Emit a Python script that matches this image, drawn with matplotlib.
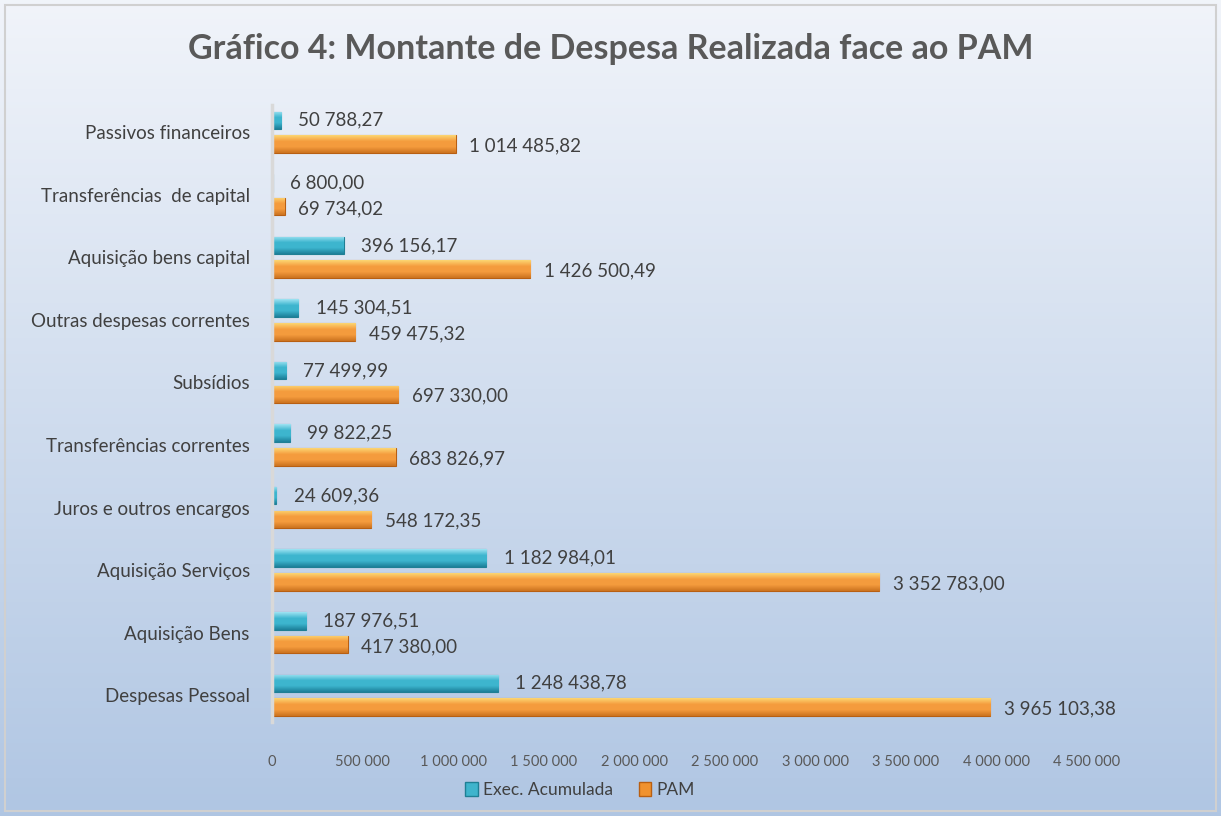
import numpy as np
import matplotlib.pyplot as plt
from matplotlib.patches import Patch, Rectangle
from matplotlib.ticker import FuncFormatter

plt.rcParams['font.family'] = ['Lato', 'DejaVu Sans']

categorias = ["Despesas Pessoal", "Aquisição Bens", "Aquisição Serviços",
              "Juros e outros encargos", "Transferências correntes", "Subsídios",
              "Outras despesas correntes", "Aquisição bens capital",
              "Transferências  de capital", "Passivos financeiros"]
exec_acumulada = [1248438.78, 187976.51, 1182984.01, 24609.36, 99822.25,
                  77499.99, 145304.51, 396156.17, 6800.00, 50788.27]
pam = [3965103.38, 417380.00, 3352783.00, 548172.35, 683826.97,
       697330.00, 459475.32, 1426500.49, 69734.02, 1014485.82]
series = ["Exec. Acumulada", "PAM"]


def fmt_num(v, dec=2):
    s = f"{v:,.{dec}f}"
    return s.replace(",", " ").replace(".", ",")


fig = plt.figure(figsize=(12.21, 8.16), dpi=100)

# background gradient
bg = fig.add_axes([0, 0, 1, 1], zorder=-2)
grad = np.linspace(0, 1, 256)[:, None]
top = np.array([0.945, 0.957, 0.980])
bot = np.array([0.690, 0.776, 0.890])
img = top[None, None, :] * (1 - grad[:, :, None]) + bot[None, None, :] * grad[:, :, None]
bg.imshow(img, aspect='auto', extent=[0, 1, 0, 1])
bg.add_patch(Rectangle((0.004, 0.006), 0.992, 0.988, fill=False,
                       edgecolor='#d0d0d0', linewidth=1.5))
bg.set_xlim(0, 1)
bg.set_ylim(0, 1)
bg.axis('off')

ax = fig.add_axes([0.2228, 0.115, 0.6675, 0.756])
ax.patch.set_alpha(0)

y = np.arange(len(categorias))
off = 0.19
h = 0.28
b1 = ax.barh(y + off, exec_acumulada, height=h, color='#3fb4cc',
             edgecolor='#1f7f94', linewidth=0.8)
b2 = ax.barh(y - off, pam, height=h, color='#f0922f',
             edgecolor='#b85f12', linewidth=0.8)


def shade(bars, c_top, c_mid, c_bot):
    cols = np.array([c_top, c_mid, c_mid, c_bot])
    g = np.linspace(0, 1, 64)
    stops = np.array([0, 0.35, 0.65, 1])
    rgb = np.stack([np.interp(g, stops, cols[:, k]) for k in range(3)], axis=1)
    im = rgb[:, None, :]
    for p in bars:
        x0, y0 = p.get_x(), p.get_y()
        w, hh = p.get_width(), p.get_height()
        ai = ax.imshow(im, aspect='auto', extent=[x0, x0 + w, y0, y0 + hh],
                       origin='upper', zorder=2)
        ai.set_clip_path(p)


shade(b1, [0.62, 0.89, 0.95], [0.24, 0.71, 0.81], [0.11, 0.50, 0.60])
shade(b2, [0.99, 0.84, 0.45], [0.96, 0.61, 0.24], [0.80, 0.45, 0.12])

for p, v in zip(b1, exec_acumulada):
    ax.text(v + 95000, p.get_y() + p.get_height() / 2, fmt_num(v),
            va='center', ha='left', fontsize=13.5, color='#404040')
for p, v in zip(b2, pam):
    ax.text(v + 75000, p.get_y() + p.get_height() / 2 - 0.03, fmt_num(v),
            va='center', ha='left', fontsize=13.5, color='#404040')

ax.set_xlim(0, 4500000)
ax.set_ylim(-0.43, 9.43)
ax.set_xticks(np.arange(0, 4500001, 500000))
ax.xaxis.set_major_formatter(FuncFormatter(lambda v, p: fmt_num(v, 0)))
ax.set_yticks(y)
ax.set_yticklabels(categorias)
ax.tick_params(axis='y', length=0, pad=16, labelsize=13.5, labelcolor='#404040')
ax.tick_params(axis='x', length=0, pad=24, labelsize=10.5, labelcolor='#595959')
for s in ['top', 'right', 'bottom']:
    ax.spines[s].set_visible(False)
ax.spines['left'].set_color('#d9d9d9')
ax.spines['left'].set_linewidth(2.5)

fig.text(0.5, 0.94, "Gráfico 4: Montante de Despesa Realizada face ao PAM",
         ha='center', va='center', fontsize=24.5, fontweight='bold', color='#595959')

handles = [Patch(facecolor='#3fb4cc', edgecolor='#1f7f94'),
           Patch(facecolor='#f0922f', edgecolor='#b85f12')]
fig.legend(handles, series, loc='center', bbox_to_anchor=(0.475, 0.032), ncol=2,
           frameon=False, fontsize=12.5, handlelength=0.7, handleheight=0.9,
           handletextpad=0.3, columnspacing=1.5, labelcolor='#404040')

fig.savefig('out.png', dpi=100)
